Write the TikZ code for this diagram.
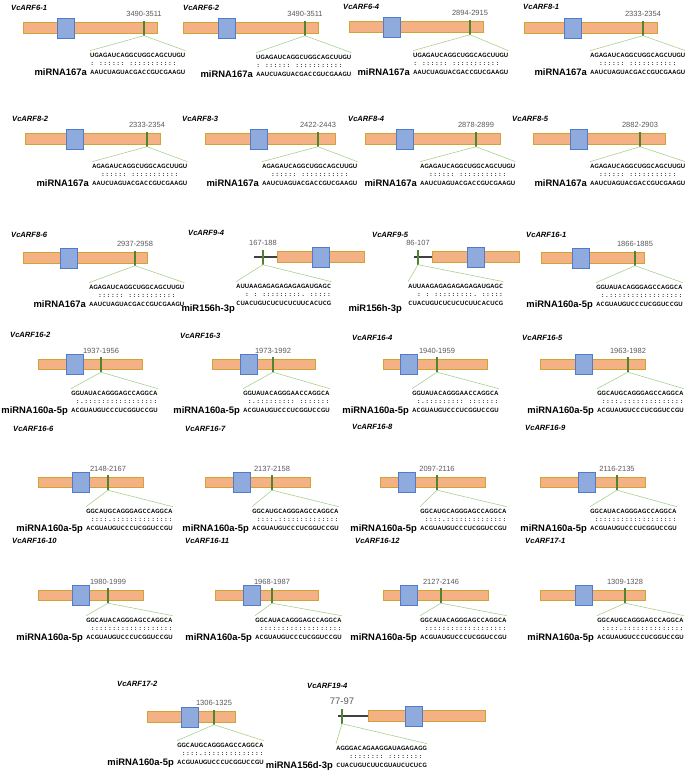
\documentclass[tikz,border=0pt]{standalone}
\usepackage{fontspec}
\setmainfont{Liberation Sans}
\newfontfamily\seqfont{Carlito}
\pgfdeclarelayer{background}
\pgfsetlayers{background,main}
\definecolor{barfill}{HTML}{F4B183}
\definecolor{barline}{HTML}{D2A235}
\definecolor{domfill}{HTML}{8FAADC}
\definecolor{domline}{HTML}{4F7BC8}
\definecolor{sitegreen}{HTML}{548235}
\definecolor{tiegreen}{HTML}{A9D18E}
\definecolor{leadgray}{HTML}{404040}
\definecolor{numgray}{HTML}{595959}
\makeatletter
\newlength\seqpitch
\setlength\seqpitch{4.32pt}
\def\fixseq#1{\fix@seq#1\@nil}
\def\fix@seq#1{\ifx#1\@nil\else\makebox[\seqpitch]{\ifx#1x\else#1\fi}\expandafter\fix@seq\fi}
\makeatother
\tikzset{
  barstyle/.style={draw=barline, fill=barfill, line width=0.7pt, minimum height=10.5pt, inner sep=0pt, anchor=west},
  domstyle/.style={draw=domline, fill=domfill, line width=0.7pt, minimum width=16.5pt, minimum height=20pt, inner sep=0pt, anchor=west},
  sitestyle/.style={fill=sitegreen, minimum width=2pt, minimum height=15pt, inner sep=0pt},
  tieline/.style={draw=tiegreen, line width=0.6pt},
  leader/.style={draw=leadgray, line width=1.1pt},
  genelabel/.style={font=\fontsize{7.6}{8}\selectfont\bfseries\itshape, anchor=west, inner sep=0pt},
  posnum/.style={font=\fontsize{7.5}{8}\selectfont, text=numgray, inner sep=0pt, anchor=south},
  seqline/.style={font=\seqfont\bfseries\fontsize{6.6}{7}\selectfont, inner xsep=0pt, inner ysep=0pt, anchor=base west},
  mirlabel/.style={font=\fontsize{9.4}{10}\selectfont\bfseries, anchor=base east, inner sep=0pt},
}
% #1 id, #2 gene name, #3 label x, #4 label y, #5 bar x1, #6 bar x2, #7 bar y, #8 domain x, #9 site x
\newcommand\panel[9]{%
  \node[genelabel] (lab#1) at (#3,#4) {#2};
  \node[barstyle, minimum width={(#6-#5)*1pt}] (bar#1) at (#5,#7) {};
  \node[domstyle] (dom#1) at (#8,#7) {};
  \node[sitestyle] (site#1) at (#9,#7) {};
}
% #1 id, #2 position, #3 seq x, #4 seq y, #5 target, #6 pairing, #7 miRNA, #8 miRNA name
\newcommand\target[8]{%
  \node[posnum] (pos#1) at ([yshift=3.5pt]site#1.north) {#2};
  \node[seqline] (st#1) at (#3,#4+2.2) {\fixseq{#5}};
  \node[seqline] (sm#1) at (#3,#4+10.8) {\fixseq{#6}};
  \node[seqline] (sb#1) at (#3,#4+19.4) {\fixseq{#7}};
  \draw[tieline] (site#1.south) -- ([yshift=2pt]st#1.north west);
  \draw[tieline] (site#1.south) -- ([yshift=2pt]st#1.north east);
  \node[mirlabel] (mir#1) at (#3-3,#4+20.6) {#8};
}
\begin{document}
\begin{tikzpicture}[x=1pt,y=-1pt]
\useasboundingbox (0,0) rectangle (685,771);
% Row 1
\panel{1}{VcARF6-1}{11}{8}{23}{157}{28}{57}{144}
\target{1}{3490-3511}{90}{55}{UGAGAUCAGGCUGGCAGCUUGU}{:x::::::x:::::::::::xx}{AAUCUAGUACGACCGUCGAAGU}{miRNA167a}
\panel{2}{VcARF6-2}{183}{8}{183}{318}{28}{218}{305}
\target{2}{3490-3511}{256}{57}{UGAGAUCAGGCUGGCAGCUUGU}{:x::::::x:::::::::::xx}{AAUCUAGUACGACCGUCGAAGU}{miRNA167a}
\panel{3}{VcARF6-4}{343}{7}{349}{483}{27}{383}{470}
\target{3}{2894-2915}{413}{55}{UGAGAUCAGGCUGGCAGCUUGU}{:x::::::x:::::::::::xx}{AAUCUAGUACGACCGUCGAAGU}{miRNA167a}
\panel{4}{VcARF8-1}{523}{7}{524}{657}{28}{564}{643}
\target{4}{2333-2354}{590}{55}{AGAGAUCAGGCUGGCAGCUUGU}{xx::::::x:::::::::::xx}{AAUCUAGUACGACCGUCGAAGU}{miRNA167a}
% Row 2
\panel{5}{VcARF8-2}{12}{119}{25}{160}{139}{66}{147}
\target{5}{2333-2354}{92}{166}{AGAGAUCAGGCUGGCAGCUUGU}{xx::::::x:::::::::::xx}{AAUCUAGUACGACCGUCGAAGU}{miRNA167a}
\panel{6}{VcARF8-3}{182}{119}{205}{335}{139}{250}{318}
\target{6}{2422-2443}{262}{166}{AGAGAUCAGGCUGGCAGCUUGU}{xx::::::x:::::::::::xx}{AAUCUAGUACGACCGUCGAAGU}{miRNA167a}
\panel{7}{VcARF8-4}{348}{119}{365}{500}{139}{396}{476}
\target{7}{2878-2899}{420}{166}{AGAGAUCAGGCUGGCAGCUUGU}{xx::::::x:::::::::::xx}{AAUCUAGUACGACCGUCGAAGU}{miRNA167a}
\panel{8}{VcARF8-5}{512}{119}{533}{665}{139}{570}{640}
\target{8}{2882-2903}{590}{166}{AGAGAUCAGGCUGGCAGCUUGU}{xx::::::x:::::::::::xx}{AAUCUAGUACGACCGUCGAAGU}{miRNA167a}
% Row 3
\panel{9}{VcARF8-6}{11}{235}{23}{147}{258}{60}{135}
\target{9}{2937-2958}{89}{287}{AGAGAUCAGGCUGGCAGCUUGU}{xx::::::x:::::::::::xx}{AAUCUAGUACGACCGUCGAAGU}{miRNA167a}
\panel{10}{VcARF9-4}{188}{233}{277}{364}{257}{312}{263}
\coordinate (lead10) at (254,257);
\begin{pgfonlayer}{background}\draw[leader] (lead10) -- (bar10.west);\end{pgfonlayer}
\target{10}{167-188}{236}{286}{AUUAAGAGAGAGAGAGAUGAGC}{xx:x:x:::::::::.x:::::}{CUACUGUCUCUCUCUUCACUCG}{}
\node[mirlabel] (mirb10) at (235,311) {miR156h-3p};
\panel{11}{VcARF9-5}{372}{235}{432}{519}{257}{467}{418}
\coordinate (lead11) at (414,257);
\begin{pgfonlayer}{background}\draw[leader] (lead11) -- (bar11.west);\end{pgfonlayer}
\target{11}{86-107}{408}{286}{AUUAAGAGAGAGAGAGAUGAGC}{xx:x:x:::::::::.x:::::}{CUACUGUCUCUCUCUUCACUCG}{}
\node[mirlabel] (mirb11) at (402,311) {miR156h-3p};
\panel{12}{VcARF16-1}{526}{235}{541}{644}{258}{572}{635}
\target{12}{1866-1885}{596}{287}{GGUAUACAGGGAGCCAGGCA}{x:.:::::::::::::::::}{ACGUAUGUCCCUCGGUCCGU}{miRNA160a-5p}
% Row 4
\panel{13}{VcARF16-2}{10}{335}{38}{142}{364.5}{66}{101}
\target{13}{1937-1956}{71}{393}{GGUAUACAGGGAGCCAGGCA}{x:.:::::::::::::::::}{ACGUAUGUCCCUCGGUCCGU}{miRNA160a-5p}
\panel{14}{VcARF16-3}{180}{336}{212}{315}{364.5}{240}{273}
\target{14}{1973-1992}{243}{393}{GGUAUACAGGGAACCAGGCA}{x:.:::::::::x:::::::}{ACGUAUGUCCCUCGGUCCGU}{miRNA160a-5p}
\panel{15}{VcARF16-4}{352}{338}{383}{487}{364.5}{400}{437}
\target{15}{1940-1959}{412}{393}{GGUAUACAGGGAACCAGGCA}{x:.:::::::::x:::::::}{ACGUAUGUCCCUCGGUCCGU}{miRNA160a-5p}
\panel{16}{VcARF16-5}{522}{338}{540}{645}{364.5}{575}{628}
\target{16}{1963-1982}{597}{393}{GGCAUGCAGGGAGCCAGGCA}{x::::.::::::::::::::}{ACGUAUGUCCCUCGGUCCGU}{miRNA160a-5p}
% Row 5
\panel{17}{VcARF16-6}{13}{429}{38}{143}{482.5}{72}{108}
\target{17}{2148-2167}{86}{511}{GGCAUGCAGGGAGCCAGGCA}{x::::.::::::::::::::}{ACGUAUGUCCCUCGGUCCGU}{miRNA160a-5p}
\panel{18}{VcARF16-7}{185}{429}{205}{310}{482.5}{233}{272}
\target{18}{2137-2158}{252}{511}{GGCAUGCAGGGAGCCAGGCA}{x::::.::::::::::::::}{ACGUAUGUCCCUCGGUCCGU}{miRNA160a-5p}
\panel{19}{VcARF16-8}{352}{427}{380}{485}{482.5}{398}{437}
\target{19}{2097-2116}{420}{511}{GGCAUGCAGGGAGCCAGGCA}{x::::.::::::::::::::}{ACGUAUGUCCCUCGGUCCGU}{miRNA160a-5p}
\panel{20}{VcARF16-9}{525}{428}{540}{645}{482.5}{578}{617}
\target{20}{2116-2135}{590}{511}{GGCAUACAGGGAGCCAGGCA}{x:::::::::::::::::::}{ACGUAUGUCCCUCGGUCCGU}{miRNA160a-5p}
% Row 6
\panel{21}{VcARF16-10}{12}{541}{38}{143}{595.5}{72}{108}
\target{21}{1980-1999}{86}{620}{GGCAUACAGGGAGCCAGGCA}{x:::::::::::::::::::}{ACGUAUGUCCCUCGGUCCGU}{miRNA160a-5p}
\panel{22}{VcARF16-11}{185}{541}{215}{318}{595.5}{243}{272}
\target{22}{1968-1987}{255}{620}{GGCAUACAGGGAGCCAGGCA}{x:::::::::::::::::::}{ACGUAUGUCCCUCGGUCCGU}{miRNA160a-5p}
\panel{23}{VcARF16-12}{355}{541}{383}{488}{595.5}{400}{441}
\target{23}{2127-2146}{420}{620}{GGCAUACAGGGAGCCAGGCA}{x:::::::::::::::::::}{ACGUAUGUCCCUCGGUCCGU}{miRNA160a-5p}
\panel{24}{VcARF17-1}{525}{541}{540}{645}{595.5}{575}{625}
\target{24}{1309-1328}{597}{620}{GGCAUGCAGGGAGCCAGGCA}{x::::.::::::::::::::}{ACGUAUGUCCCUCGGUCCGU}{miRNA160a-5p}
% Row 7
\panel{25}{VcARF17-2}{117}{684}{147}{235}{717}{181}{214}
\target{25}{1306-1325}{177}{745}{GGCAUGCAGGGAGCCAGGCA}{x::::.::::::::::::::}{ACGUAUGUCCCUCGGUCCGU}{miRNA160a-5p}
\panel{26}{VcARF19-4}{307}{686}{368}{485}{716}{405}{342}
\coordinate (lead26) at (338,716);
\begin{pgfonlayer}{background}\draw[leader] (lead26) -- (bar26.west);\end{pgfonlayer}
\begin{scope}[posnum/.append style={font=\fontsize{9.5}{10}\selectfont}]
\target{26}{77-97}{336}{748}{AGGGACAGAAGGAUAGAGAGG}{xxx::::::::x::::::::x}{CUACUGUCUUCGUAUCUCUCG}{miRNA156d-3p}
\end{scope}
\end{tikzpicture}
\end{document}
